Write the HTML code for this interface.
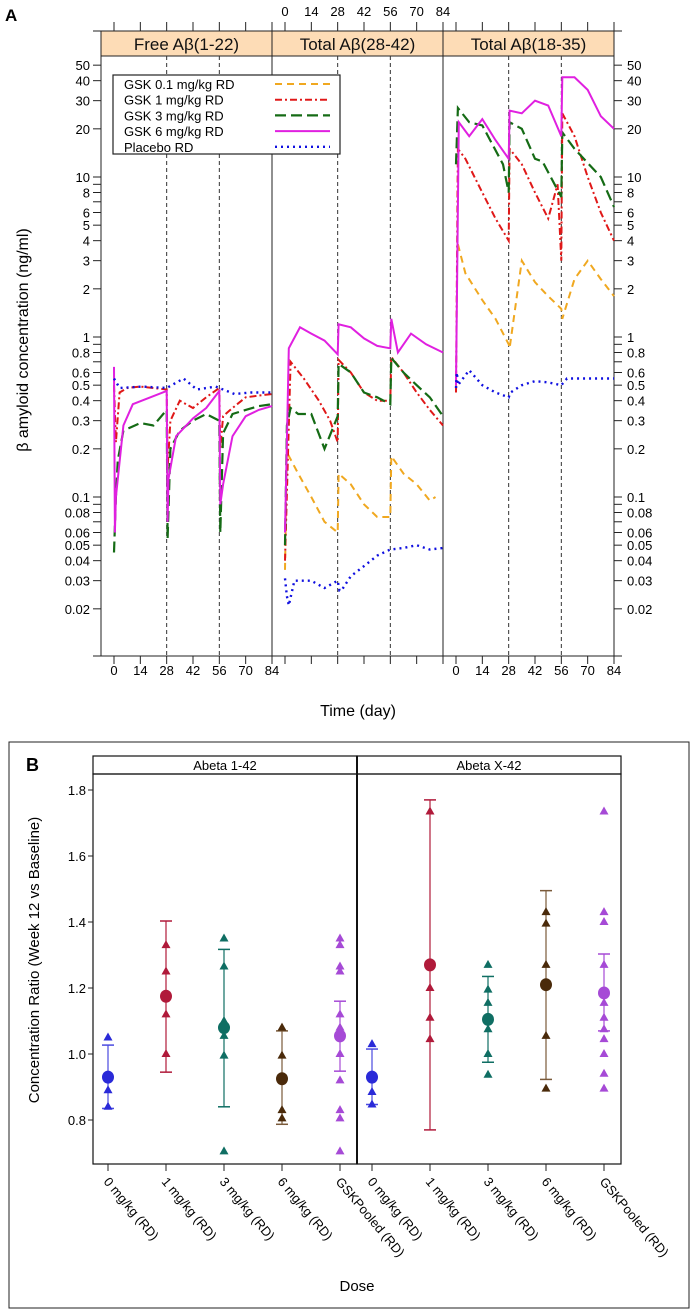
<!DOCTYPE html>
<html><head><meta charset="utf-8"><style>
body{margin:0;background:#fff;}
svg{display:block;font-family:"Liberation Sans",Arial,sans-serif;}
</style></head><body>
<svg id="fig" width="692" height="1312" viewBox="0 0 692 1312" xmlns="http://www.w3.org/2000/svg">
<g id="pa"></g>
<g id="pb"></g>
</svg>
<script>
// ---------- Panel A data ----------
const panelTitles = ["Free Aβ(1-22)", "Total Aβ(28-42)", "Total Aβ(18-35)"];
const yTickValsA = [0.02,0.03,0.04,0.05,0.06,0.07,0.08,0.09,0.1,0.2,0.3,0.4,0.5,0.6,0.7,0.8,0.9,1,2,3,4,5,6,7,8,9,10,20,30,40,50];
const yTickLabelsA = ["0.02","0.03","0.04","0.05","0.06","","0.08","","0.1","0.2","0.3","0.4","0.5","0.6","","0.8","","1","2","3","4","5","6","","8","","10","20","30","40","50"];
const dayTicks = [0,14,28,42,56,70,84];
const seriesNames = ["GSK 0.1 mg/kg RD","GSK 1 mg/kg RD","GSK 3 mg/kg RD","GSK 6 mg/kg RD","Placebo RD"];
// each series: per panel [days],[values]
const orangeDays = [[],[0,1,7,14,21,28,28.5,35,42,49,56,56.5,63,70,77,80],[1,5,14,21,28,28.5,35,42,49,56,56.5,63,70,77,84]];
const orangeVals = [[],[0.035,0.19,0.14,0.1,0.07,0.06,0.14,0.12,0.09,0.075,0.075,0.18,0.14,0.12,0.095,0.1],[3.8,2.5,1.7,1.3,0.9,0.85,3,2.2,1.8,1.5,1.3,2.3,3,2.3,1.8,1.5]];
const redDays = [[0,1,3,7,14,21,28,28.5,30,35,42,49,56,56.5,58,63,70,77,84],[0,3,10,18,24,28,28.5,35,42,49,56,56.5,63,70,77,84],[0,1,5,14,21,28,28.5,35,42,49,54,56,56.5,63,70,77,84]];
const redVals = [[0.5,0.22,0.45,0.48,0.49,0.48,0.47,0.15,0.3,0.4,0.36,0.42,0.48,0.2,0.32,0.36,0.42,0.43,0.44],[0.04,0.7,0.55,0.4,0.3,0.22,0.72,0.6,0.45,0.4,0.4,0.75,0.6,0.45,0.35,0.28],[0.45,15,13,8,5.5,4,15,12,8,5.5,9,3,25,18,10,6,4]];
const greenDays = [[0,1,2,5,14,21,28,28.5,30,35,42,49,56,56.5,58,63,70,77,84],[0,1,3,7,14,21,28,28.5,35,42,49,56,56.5,63,70,77,84],[0,1,7,14,25,28,28.5,35,42,46,56,56.5,63,77,84]];
const greenVals = [[0.045,0.1,0.17,0.26,0.29,0.28,0.35,0.055,0.2,0.26,0.3,0.33,0.3,0.06,0.25,0.33,0.35,0.37,0.38],[0.05,0.28,0.36,0.33,0.33,0.2,0.32,0.68,0.6,0.45,0.42,0.38,0.74,0.6,0.5,0.42,0.32],[12,27,22,21,12,8,22,20,13,12.5,7.5,19,15,10,6.5]];
const magentaDays = [[0,0.5,1,5,10,28,28.5,29,33,42,49,56,56.5,58,63,70,77,84],[0,2,8,14,21,28,28.5,35,42,49,56,56.5,60,67,75,84],[0,1.5,7,14,21,28,28.5,35,42,49,56,56.5,63,70,77,84]];
const magentaVals = [[0.65,0.06,0.1,0.28,0.38,0.46,0.07,0.13,0.24,0.31,0.36,0.46,0.09,0.12,0.24,0.32,0.35,0.37],[0.06,0.85,1.15,1.05,0.95,0.78,1.2,1.15,0.98,0.88,0.85,1.3,0.8,1.05,0.9,0.8],[0.5,22,18,23,17,13,26,25,30,28,18,42,42,35,24,20]];
const blueDays = [[0,3,15,28,37,44,54,56,64,73,84],[0,1,2,5,14,21,28,29,30,35,42,49,56,63,70,77,84],[0,0.5,1,7,14,21,28,29,35,42,49,56,59,70,84]];
const blueVals = [[0.55,0.48,0.49,0.48,0.55,0.47,0.49,0.48,0.44,0.45,0.45],[0.031,0.024,0.021,0.03,0.03,0.027,0.03,0.026,0.026,0.032,0.037,0.043,0.047,0.048,0.05,0.047,0.048],[0.48,0.6,0.5,0.62,0.5,0.45,0.42,0.45,0.5,0.53,0.52,0.5,0.55,0.55,0.55]];

// ---------- Panel B data ----------
const doseCats = ["0 mg/kg (RD)","1 mg/kg (RD)","3 mg/kg (RD)","6 mg/kg (RD)","GSKPooled (RD)"];
const bPanels = ["Abeta 1-42","Abeta X-42"];
const yTicksB = [0.8,1.0,1.2,1.4,1.6,1.8];
const yTickLabelsB = ["0.8","1.0","1.2","1.4","1.6","1.8"];
const means1 = [0.93,1.175,1.08,0.925,1.055];
const lo1 = [0.835,0.945,0.84,0.787,0.948];
const hi1 = [1.027,1.403,1.317,1.07,1.16];
const pts1 = [[1.05,0.89,0.84],[1.33,1.25,1.12,1.0],[1.35,1.265,1.1,1.055,0.995,0.705],[1.08,0.995,0.83,0.805],[1.35,1.33,1.265,1.25,1.12,1.08,1.0,0.92,0.83,0.805,0.705]];
const means2 = [0.93,1.27,1.105,1.21,1.185];
const lo2 = [0.847,0.77,0.975,0.923,1.07];
const hi2 = [1.015,1.77,1.235,1.495,1.303];
const pts2 = [[1.03,0.885,0.847],[1.735,1.2,1.11,1.045],[1.27,1.195,1.155,1.075,1.0,0.937],[1.43,1.395,1.27,1.055,0.895],[1.735,1.43,1.4,1.27,1.155,1.11,1.075,1.045,1.0,0.94,0.895]];

const NS="http://www.w3.org/2000/svg";
function mk(tag,attrs,parent,text){const e=document.createElementNS(NS,tag);for(const k in attrs)e.setAttribute(k,attrs[k]);if(text!==undefined)e.textContent=text;parent.appendChild(e);return e;}

// ---------- draw panel A ----------
const pa=document.getElementById('pa');
const panL=[101,272,443], panW=171, topY=56, botY=656;
const yA=v=>337-160*Math.log10(v);
const xA=(p,d)=>panL[p]+13+d*(158/84);
let t;
t=mk('text',{x:5,y:21,'font-size':17,'font-weight':'bold'},pa,'A');

for(let p=0;p<3;p++){
  const s=mk('rect',{x:panL[p],y:31,width:panW,height:25,fill:'#fddcb6',stroke:'#222','stroke-width':1},pa);
  
  t=mk('text',{x:panL[p]+panW/2,y:50,'font-size':17,'text-anchor':'middle',fill:'#111'},pa,panelTitles[p]);
  
  const fr=mk('rect',{x:panL[p],y:topY,width:panW,height:botY-topY,fill:'none',stroke:'#222','stroke-width':1},pa);
  
  [28,56].forEach(d=>{const l=mk('line',{x1:xA(p,d),x2:xA(p,d),y1:topY,y2:botY,stroke:'#333','stroke-width':1,'stroke-dasharray':'4,3'},pa);
    });
  dayTicks.forEach(d=>{
    const x=xA(p,d);
    mk('line',{x1:x,x2:x,y1:botY,y2:botY+8,stroke:'#222'},pa);
    mk('line',{x1:x,x2:x,y1:22,y2:31,stroke:'#222'},pa);
    if(p!==1){t=mk('text',{x:x,y:675,'font-size':13,'text-anchor':'middle'},pa,String(d));
      }
    else{t=mk('text',{x:x,y:16,'font-size':13,'text-anchor':'middle'},pa,String(d));
      }
  });
}
mk('line',{x1:93,x2:622,y1:botY,y2:botY,stroke:'#222'},pa);
mk('line',{x1:93,x2:622,y1:31,y2:31,stroke:'#222'},pa);
yTickValsA.forEach((v,i)=>{
  const y=yA(v);
  mk('line',{x1:93,x2:101,y1:y,y2:y,stroke:'#222'},pa);
  mk('line',{x1:614,x2:622,y1:y,y2:y,stroke:'#222'},pa);
  if(yTickLabelsA[i]){
    t=mk('text',{x:90,y:y+5,'font-size':13,'text-anchor':'end'},pa,yTickLabelsA[i]);
    
    t=mk('text',{x:627,y:y+5,'font-size':13},pa,yTickLabelsA[i]);
    
  }
});
t=mk('text',{x:0,y:0,'font-size':16,'text-anchor':'middle',transform:'translate(28,340) rotate(-90)'},pa,'β amyloid concentration (ng/ml)');

t=mk('text',{x:358,y:716,'font-size':16,'text-anchor':'middle'},pa,'Time (day)');


const styles=[
 {c:'#f0a820',d:'7,5',w:2,days:orangeDays,vals:orangeVals},
 {c:'#e01818',d:'7,3,2,3',w:2,days:redDays,vals:redVals},
 {c:'#156b15',d:'11,5',w:2.2,days:greenDays,vals:greenVals},
 {c:'#e020e0',d:'',w:2,days:magentaDays,vals:magentaVals},
 {c:'#1010e0',d:'2,4',w:2.4,days:blueDays,vals:blueVals}];
const keys=['orange','red','green','magenta','blue'];
styles.forEach((s,si)=>{
  for(let p=0;p<3;p++){
    if(!s.days[p].length)continue;
    const pts=s.days[p].map((d,i)=>xA(p,d).toFixed(1)+','+yA(s.vals[p][i]).toFixed(1)).join(' ');
    const pl=mk('polyline',{points:pts,fill:'none',stroke:s.c,'stroke-width':s.w,'stroke-dasharray':s.d},pa);
    
    
  }
});
// legend
const lg=mk('g',{},pa);

mk('rect',{x:113,y:75,width:227,height:79,fill:'#fff',stroke:'#222','stroke-width':1.2},lg);
seriesNames.forEach((n,i)=>{
  const y=84+i*15.7;
  t=mk('text',{x:124,y:y+5,'font-size':13},lg,n);
  
  mk('line',{x1:275,x2:330,y1:y,y2:y,stroke:styles[i].c,'stroke-width':styles[i].w,'stroke-dasharray':styles[i].d},lg);
});

// ---------- draw panel B ----------
const pb=document.getElementById('pb');
const bL=[93,357], bW=264, bTop=774, bBot=1164;
const yB=v=>1054-(v-1)*330;
const xB=(p,i)=>bL[p]+15+i*58;
const colors=['#2a2ad8','#b01a3a','#0f6e63','#4a2a0a','#a64ad6'];
const lineCols=['#4a4ae0','#b01a3a','#0f6e63','#7a5a3a','#a64ad6'];
let r=mk('rect',{x:9,y:742,width:680,height:566,fill:'none',stroke:'#222','stroke-width':1},pb);

t=mk('text',{x:26,y:771,'font-size':18,'font-weight':'bold'},pb,'B');

const M=[means1,means2],LO=[lo1,lo2],HI=[hi1,hi2],PT=[pts1,pts2];
for(let p=0;p<2;p++){
  r=mk('rect',{x:bL[p],y:756,width:bW,height:18,fill:'#fff',stroke:'#111','stroke-width':1.2},pb);
  
  t=mk('text',{x:bL[p]+bW/2,y:770,'font-size':13,'text-anchor':'middle'},pb,bPanels[p]);
  
  r=mk('rect',{x:bL[p],y:bTop,width:bW,height:bBot-bTop,fill:'none',stroke:'#111','stroke-width':1.2},pb);
  
  doseCats.forEach((c,i)=>{
    const x=xB(p,i);
    mk('line',{x1:x,x2:x,y1:bBot,y2:bBot+7,stroke:'#222'},pb);
    t=mk('text',{x:0,y:0,'font-size':13,transform:`translate(${x-5},${bBot+18}) rotate(50)`},pb,c);
    
    const col=colors[i];
    const eb=mk('g',{},pb);
    
    mk('line',{x1:x,x2:x,y1:yB(LO[p][i]),y2:yB(HI[p][i]),stroke:lineCols[i],'stroke-width':1.2},eb);
    mk('line',{x1:x-6,x2:x+6,y1:yB(LO[p][i]),y2:yB(LO[p][i]),stroke:lineCols[i],'stroke-width':1.5},eb);
    mk('line',{x1:x-6,x2:x+6,y1:yB(HI[p][i]),y2:yB(HI[p][i]),stroke:lineCols[i],'stroke-width':1.5},eb);
    PT[p][i].forEach(v=>{const y=yB(v);
      const tri=mk('polygon',{points:`${x},${y-5} ${x-4.5},${y+3} ${x+4.5},${y+3}`,fill:col},pb);
      });
    const mc=mk('ellipse',{cx:x,cy:yB(M[p][i]),rx:6,ry:6.5,fill:col},pb);
    
  });
}
mk('line',{x1:357,x2:357,y1:756,y2:bBot,stroke:'#111','stroke-width':2},pb);
yTicksB.forEach((v,i)=>{const y=yB(v);
  mk('line',{x1:88,x2:93,y1:y,y2:y,stroke:'#222'},pb);
  t=mk('text',{x:86,y:y+5,'font-size':13,'text-anchor':'end'},pb,yTickLabelsB[i]);
  });
t=mk('text',{x:0,y:0,'font-size':15,'text-anchor':'middle',transform:'translate(39,960) rotate(-90)'},pb,'Concentration Ratio (Week 12 vs Baseline)');

t=mk('text',{x:357,y:1291,'font-size':15,'text-anchor':'middle'},pb,'Dose');

</script>
</body></html>
